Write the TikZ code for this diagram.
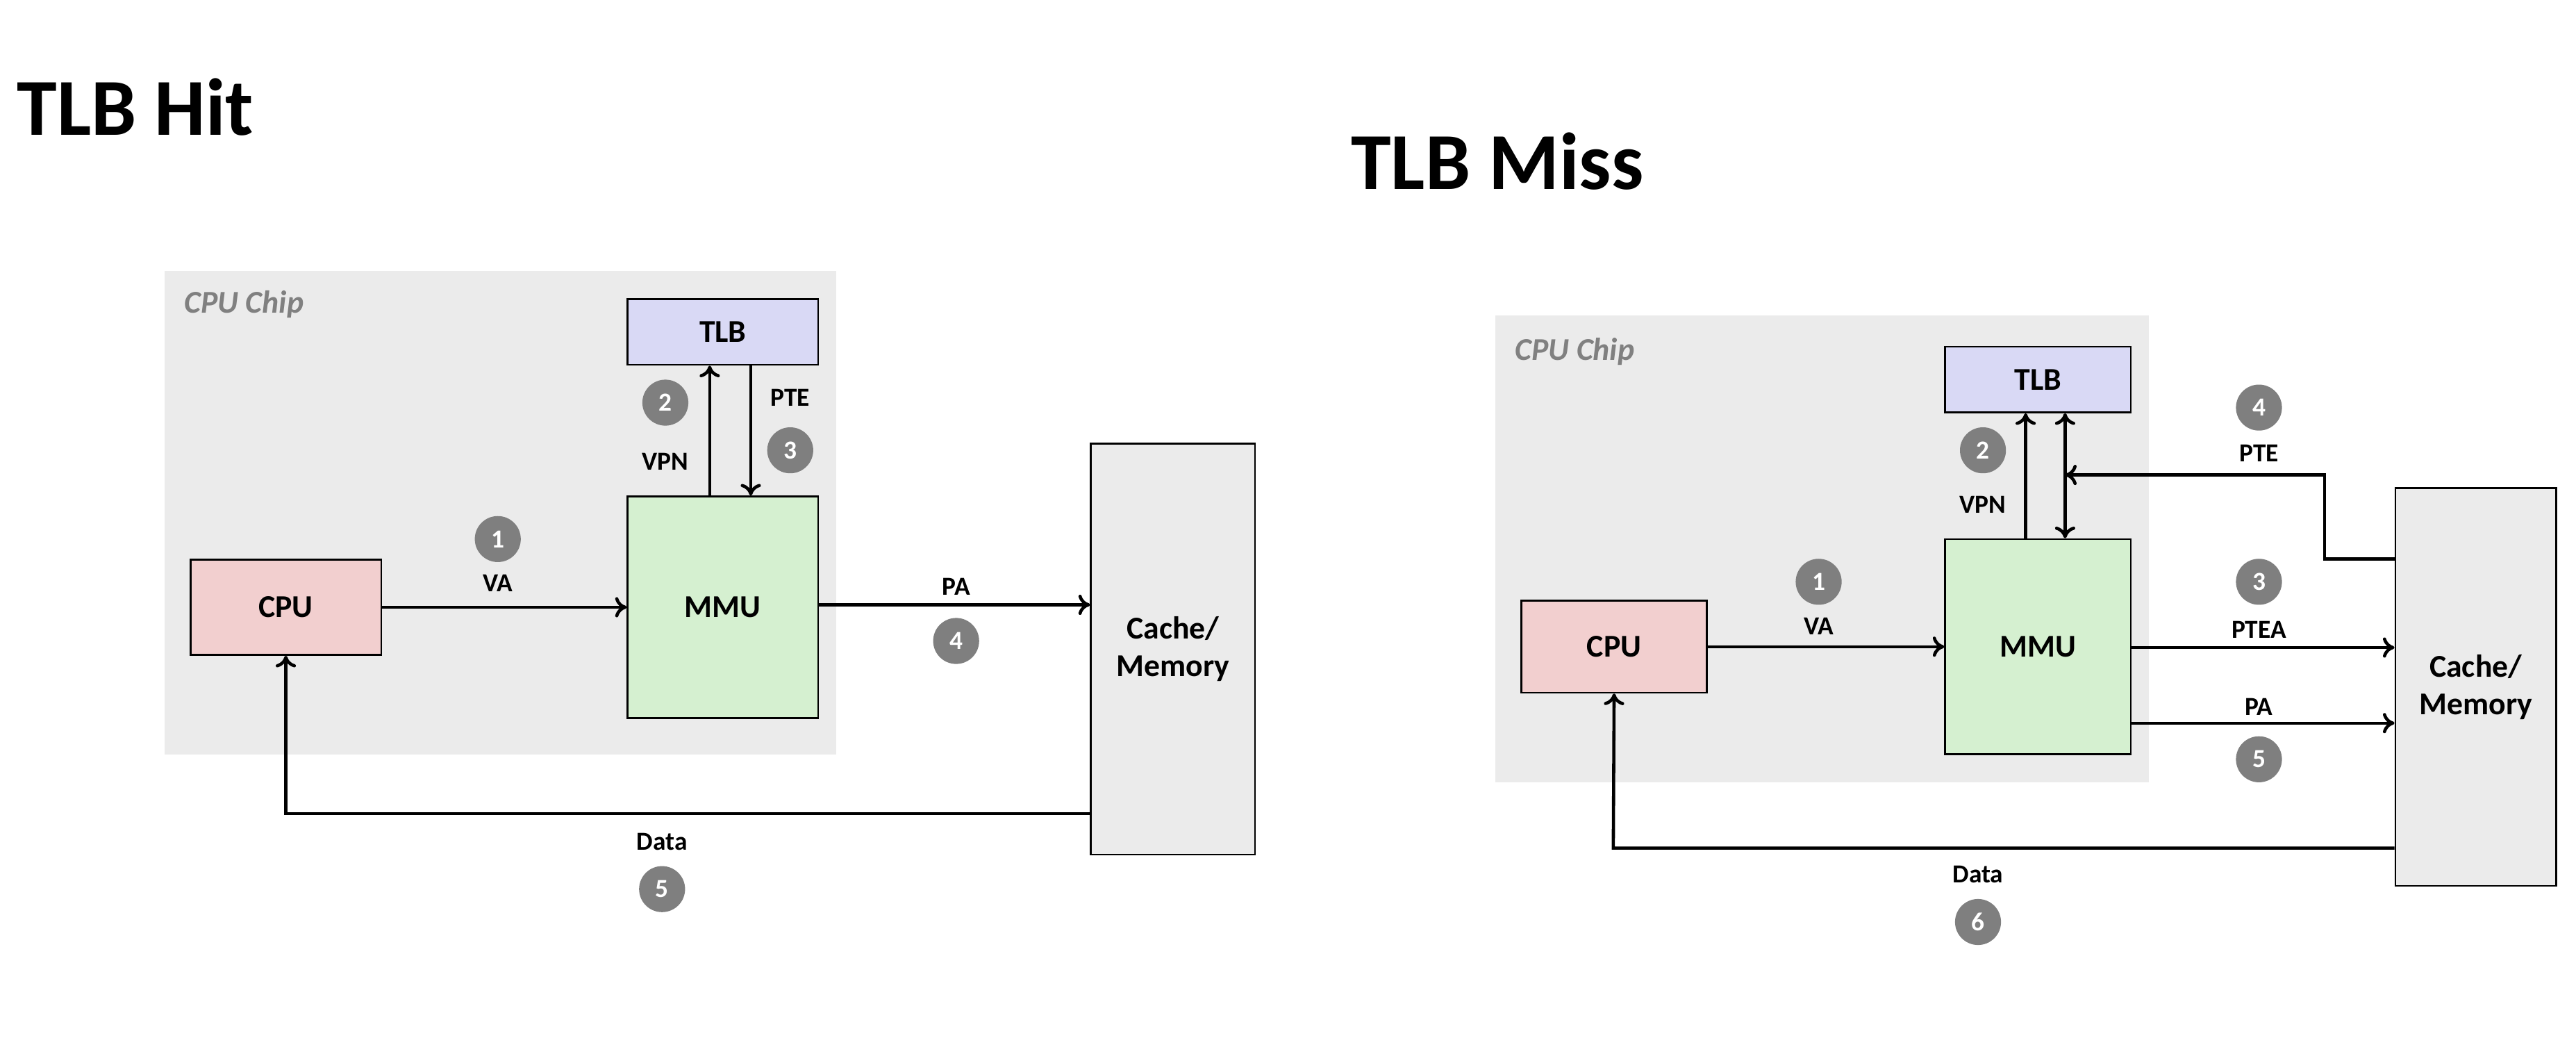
\documentclass[tikz,border=0pt]{standalone}
\usepackage{fontspec}
\setmainfont{Carlito}
\usetikzlibrary{arrows.meta,positioning,calc}
\definecolor{chipgray}{HTML}{EBEBEB}
\definecolor{tlbcol}{HTML}{D9D9F5}
\definecolor{mmucol}{HTML}{D5F0D0}
\definecolor{cpucol}{HTML}{F2CFCF}
\definecolor{numgray}{HTML}{7F7F7F}
\tikzset{
  chip/.style={fill=chipgray, inner sep=0},
  box/.style={draw=black, line width=0.6pt, inner sep=0, font=\bfseries\fontsize{11}{13}\selectfont, align=center},
  lbl/.style={font=\bfseries\fontsize{9}{10}\selectfont, inner sep=0},
  num/.style={circle, fill=numgray, text=white, minimum size=0.56cm, inner sep=0, font=\bfseries\fontsize{9}{10}\selectfont},
  link/.style={line width=1.1pt, -{To[length=4pt,width=7pt]}},
  ttl/.style={font=\bfseries\fontsize{28}{32}\selectfont, anchor=west, inner sep=0}
}
\begin{document}
\begin{tikzpicture}[x=0.02cm, y=-0.02cm]
  \useasboundingbox (0,0) rectangle (1568,641);

  % TLB hit
  \node (hit) [ttl] at (10,65) {TLB Hit};
  \node (chipA) [chip, minimum width=8.18cm, minimum height=5.88cm] at (304.5,312) {};
  \node (chipAl) [anchor=west, inner sep=0, text=gray, font=\bfseries\itshape\fontsize{11}{13}\selectfont] at (112,185) {CPU Chip};
  \node (tlbA) [box, fill=tlbcol, minimum width=2.32cm, minimum height=0.8cm] at (440,202) {TLB};
  \node (mmuA) [box, fill=mmucol, minimum width=2.32cm, minimum height=2.7cm] at (440,369.5) {MMU};
  \node (cpuA) [box, fill=cpucol, minimum width=2.32cm, minimum height=1.16cm] at (174,369.5) {CPU};
  \node (memA) [box, fill=chipgray, minimum width=2cm, minimum height=5cm] at (714,395) {Cache/\\Memory};
  \coordinate (dA) at (174,495);

  \node (vaA) [lbl] at (303,355) {VA};
  \node (n1A) [num] at (303,328) {1};
  \node (vpnA) [lbl] at (405,281) {VPN};
  \node (n2A) [num] at (405,245) {2};
  \node (pteA) [lbl] at (481,242) {PTE};
  \node (n3A) [num] at (481,274) {3};
  \node (paA) [lbl] at (582,357) {PA};
  \node (n4A) [num] at (582,390) {4};
  \node (dataA) [lbl] at (403,512) {Data};
  \node (n5A) [num] at (403,541) {5};

  \draw [link] (cpuA) -- (mmuA);
  \draw [link] ($(mmuA.north)+(-8,0)$) -- ($(tlbA.south)+(-8,0)$);
  \draw [link] ($(tlbA.south)+(17,0)$) -- ($(mmuA.north)+(17,0)$);
  \draw [link] (mmuA.east |- 0,368) -- (memA.west |- 0,368);
  \draw [link] (memA.west |- dA) -- (dA) -- (cpuA.south);

  % TLB miss
  \node (miss) [ttl] at (822,98) {TLB Miss};
  \node (chipB) [chip, minimum width=7.96cm, minimum height=5.68cm] at (1109,334) {};
  \node (chipBl) [anchor=west, inner sep=0, text=gray, font=\bfseries\itshape\fontsize{11}{13}\selectfont] at (922,214) {CPU Chip};
  \node (tlbB) [box, fill=tlbcol, minimum width=2.26cm, minimum height=0.8cm] at (1240.5,231) {TLB};
  \node (mmuB) [box, fill=mmucol, minimum width=2.26cm, minimum height=2.62cm] at (1240.5,393.5) {MMU};
  \node (cpuB) [box, fill=cpucol, minimum width=2.26cm, minimum height=1.12cm] at (982.5,393.5) {CPU};
  \node (memB) [box, fill=chipgray, minimum width=1.96cm, minimum height=4.84cm] at (1507,418) {Cache/\\Memory};
  \coordinate (dB) at (982,516);
  \coordinate (pteB1) at (1415,340);
  \coordinate (pteB2) at (1415,289);
  \coordinate (pteB3) at (1257,289);

  \node (vaB) [lbl] at (1107,381) {VA};
  \node (n1B) [num] at (1107,354) {1};
  \node (vpnB) [lbl] at (1207,307) {VPN};
  \node (n2B) [num] at (1207,274) {2};
  \node (pteB) [lbl] at (1375,276) {PTE};
  \node (n4B) [num] at (1375,248) {4};
  \node (pteaB) [lbl] at (1375,383) {PTEA};
  \node (n3B) [num] at (1375,354) {3};
  \node (paB) [lbl] at (1375,430) {PA};
  \node (n5B) [num] at (1375,462) {5};
  \node (dataB) [lbl] at (1204,532) {Data};
  \node (n6B) [num] at (1204,561) {6};

  \draw [link] (cpuB) -- (mmuB);
  \draw [link] ($(mmuB.north)+(-7.5,0)$) -- ($(tlbB.south)+(-7.5,0)$);
  \draw [link, {To[length=4pt,width=7pt]}-{To[length=4pt,width=7pt]}] ($(tlbB.south)+(16.5,0)$) -- ($(mmuB.north)+(16.5,0)$);
  \draw [link] (memB.west |- pteB1) -- (pteB1) -- (pteB2) -- (pteB3);
  \draw [link] (mmuB.east |- 0,394) -- (memB.west |- 0,394);
  \draw [link] (mmuB.east |- 0,440) -- (memB.west |- 0,440);
  \draw [link] (memB.west |- dB) -- (dB) -- (cpuB.south);
\end{tikzpicture}
\end{document}
